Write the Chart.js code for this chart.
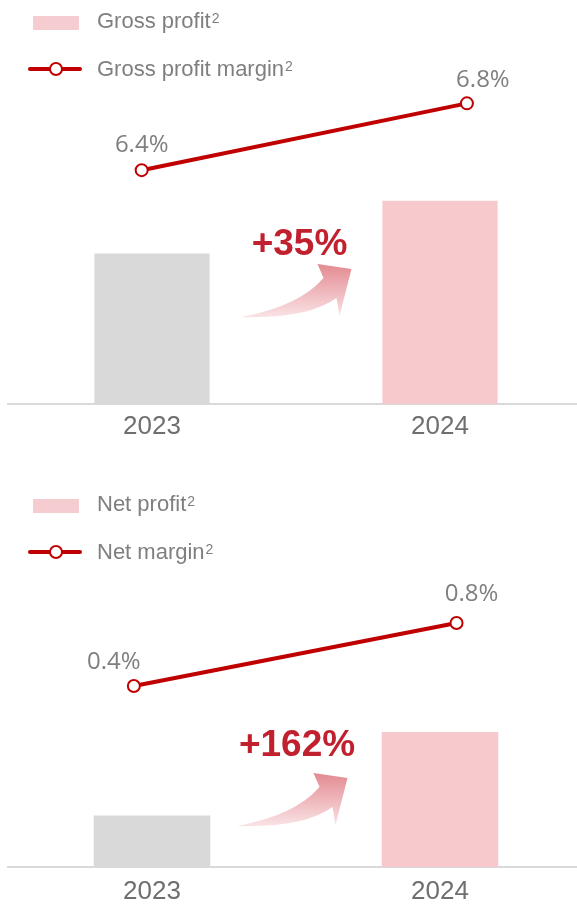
<!DOCTYPE html>
<html>
<head>
<meta charset="utf-8">
<script src="https://cdn.jsdelivr.net/npm/chart.js@4.4.1/dist/chart.umd.min.js"></script>
<style>
    html, body { margin: 0; padding: 0; background: #fff; overflow: hidden; }
    .panel { position: absolute; left: 0; width: 592px; }
    #grossPanel { top: 0; height: 449px; }
    #netPanel { top: 447px; height: 465px; }
</style>
</head>
<body>
<div class="panel" id="grossPanel"><canvas id="grossChart"></canvas></div>
<div class="panel" id="netPanel"><canvas id="netChart"></canvas></div>
<script>
const years = ["2023", "2024"];

// profit indexed to 2023 = 100
const grossProfit = [100, 135];
const grossMargin = [6.4, 6.8];

const netProfit = [100, 262];
const netMargin = [0.4, 0.8];

const RED = "#c00000";
const GREY_TEXT = "#7f7f7f";
const BAR_COLORS = ["#d9d9d9", "#f7c9cc"];
const SANS = '"Liberation Sans", Arial, sans-serif';

function drawLabel(ctx, text, sup, x, y) {
    ctx.font = "22px " + SANS;
    ctx.fillStyle = GREY_TEXT;
    ctx.textAlign = "left";
    ctx.textBaseline = "alphabetic";
    ctx.fillText(text, x, y);
    const w = ctx.measureText(text).width;
    ctx.font = "14px " + SANS;
    ctx.fillText(sup, x + w + 1, y - 5);
}

function drawLegend(ctx, names, y) {
    ctx.fillStyle = "#f5cdd1";
    ctx.fillRect(33, y - 7, 46, 14);

    const ly = y + 46;
    ctx.strokeStyle = RED;
    ctx.lineWidth = 4;
    ctx.lineCap = "round";
    ctx.beginPath();
    ctx.moveTo(30, ly);
    ctx.lineTo(80, ly);
    ctx.stroke();
    ctx.beginPath();
    ctx.arc(56, ly, 6, 0, Math.PI * 2);
    ctx.fillStyle = "#fff";
    ctx.fill();
    ctx.lineWidth = 2;
    ctx.stroke();

    drawLabel(ctx, names[0], "2", 97, y + 5);
    drawLabel(ctx, names[1], "2", 97, ly + 7);
}

function drawArrow(ctx, x, y) {
    ctx.save();
    ctx.translate(x, y);
    const grad = ctx.createLinearGradient(0, -53, 0, 2);
    grad.addColorStop(0, "#e38a91");
    grad.addColorStop(1, "#fae6e8");
    ctx.fillStyle = grad;
    ctx.beginPath();
    ctx.moveTo(0, 0);
    ctx.quadraticCurveTo(58, -11, 82, -39);
    ctx.lineTo(76, -53);
    ctx.lineTo(110, -48);
    ctx.lineTo(98, -1);
    ctx.lineTo(95, -19);
    ctx.quadraticCurveTo(66, 2, 0, 0);
    ctx.closePath();
    ctx.fill();
    ctx.restore();
}

const overlay = {
    id: "overlay",
    afterDraw(chart, args, opts) {
        const ctx = chart.ctx;
        ctx.save();

        drawLegend(ctx, opts.names, opts.legendY);

        // margin labels above the line points
        const lineMeta = chart.getDatasetMeta(1);
        ctx.font = '24px "Open Sans", sans-serif';
        ctx.fillStyle = GREY_TEXT;
        ctx.textAlign = "center";
        ctx.textBaseline = "middle";
        lineMeta.data.forEach((pt, i) => {
            const v = chart.data.datasets[1].data[i].y;
            ctx.fillText(v.toFixed(1) + "%", pt.x + opts.labelDx[i], pt.y + opts.labelDy[i]);
        });

        // growth badge between the bars
        const profit = chart.data.datasets[0].data;
        const xs = chart.scales.x;
        const mid = (xs.getPixelForValue(0) + xs.getPixelForValue(1)) / 2;
        drawArrow(ctx, mid + opts.badge.arrowDx, opts.badge.arrowY);
        const growth = Math.round((profit[1] / profit[0] - 1) * 100);
        ctx.font = "bold 37px " + SANS;
        ctx.fillStyle = "#c1202e";
        ctx.textAlign = "center";
        ctx.textBaseline = "alphabetic";
        ctx.fillText("+" + growth + "%", mid + opts.badge.dx, opts.badge.y);

        ctx.restore();
    }
};

function makeChart(id, profit, margin, setup) {
    const ctx = document.getElementById(id).getContext("2d");
    return new Chart(ctx, {
        type: "bar",
        data: {
            labels: years,
            datasets: [{
                type: "bar",
                data: profit,
                backgroundColor: BAR_COLORS,
                barPercentage: setup.barPct,
                categoryPercentage: 1,
                grouped: false,
                order: 1
            }, {
                type: "line",
                data: margin.map((v, i) => ({ x: i, y: v })),
                xAxisID: "x2",
                yAxisID: "y2",
                borderColor: RED,
                borderWidth: 4,
                pointRadius: 6,
                pointBackgroundColor: "#fff",
                pointBorderColor: RED,
                pointBorderWidth: 2,
                tension: 0,
                order: 0
            }]
        },
        options: {
            responsive: true,
            maintainAspectRatio: false,
            animation: false,
            layout: { padding: { top: 90, left: 8, right: 0, bottom: 0 } },
            plugins: {
                legend: { display: false },
                tooltip: { enabled: false },
                overlay: setup.overlay
            },
            scales: {
                x: {
                    offset: true,
                    grid: { display: false, drawTicks: false },
                    border: { color: "#d9d9d9", width: 2 },
                    ticks: {
                        color: "#6f6f6f",
                        padding: setup.tickPad,
                        font: { family: SANS, size: 26 }
                    },
                    afterFit(scale) {
                        scale.height = 45;
                    }
                },
                x2: { type: "linear", display: false, offset: false, min: setup.x2[0], max: setup.x2[1] },
                y: { display: false, min: 0, max: setup.yMax },
                y2: { display: false, beginAtZero: false, min: setup.y2[0], max: setup.y2[1] }
            }
        },
        plugins: [overlay]
    });
}

makeChart("grossChart", grossProfit, grossMargin, {
    barPct: 0.4,
    tickPad: 7,
    yMax: 208.6,
    y2: [5.0, 6.88],
    x2: [-0.411, 1.36],
    overlay: {
        names: ["Gross profit", "Gross profit margin"],
        legendY: 23,
        labelDx: [0, 16],
        labelDy: [-25, -23],
        badge: { dx: 3.5, y: 255, arrowDx: -54.5, arrowY: 317 }
    }
});

makeChart("netChart", netProfit, netMargin, {
    barPct: 0.405,
    tickPad: 9,
    yMax: 640,
    y2: [-0.75, 1.346],
    x2: [-0.39, 1.395],
    overlay: {
        names: ["Net profit", "Net margin"],
        legendY: 59,
        labelDx: [-20, 15],
        labelDy: [-24, -29],
        badge: { dx: 1, y: 309, arrowDx: -58.5, arrowY: 379 }
    }
});
</script>
</body>
</html>
